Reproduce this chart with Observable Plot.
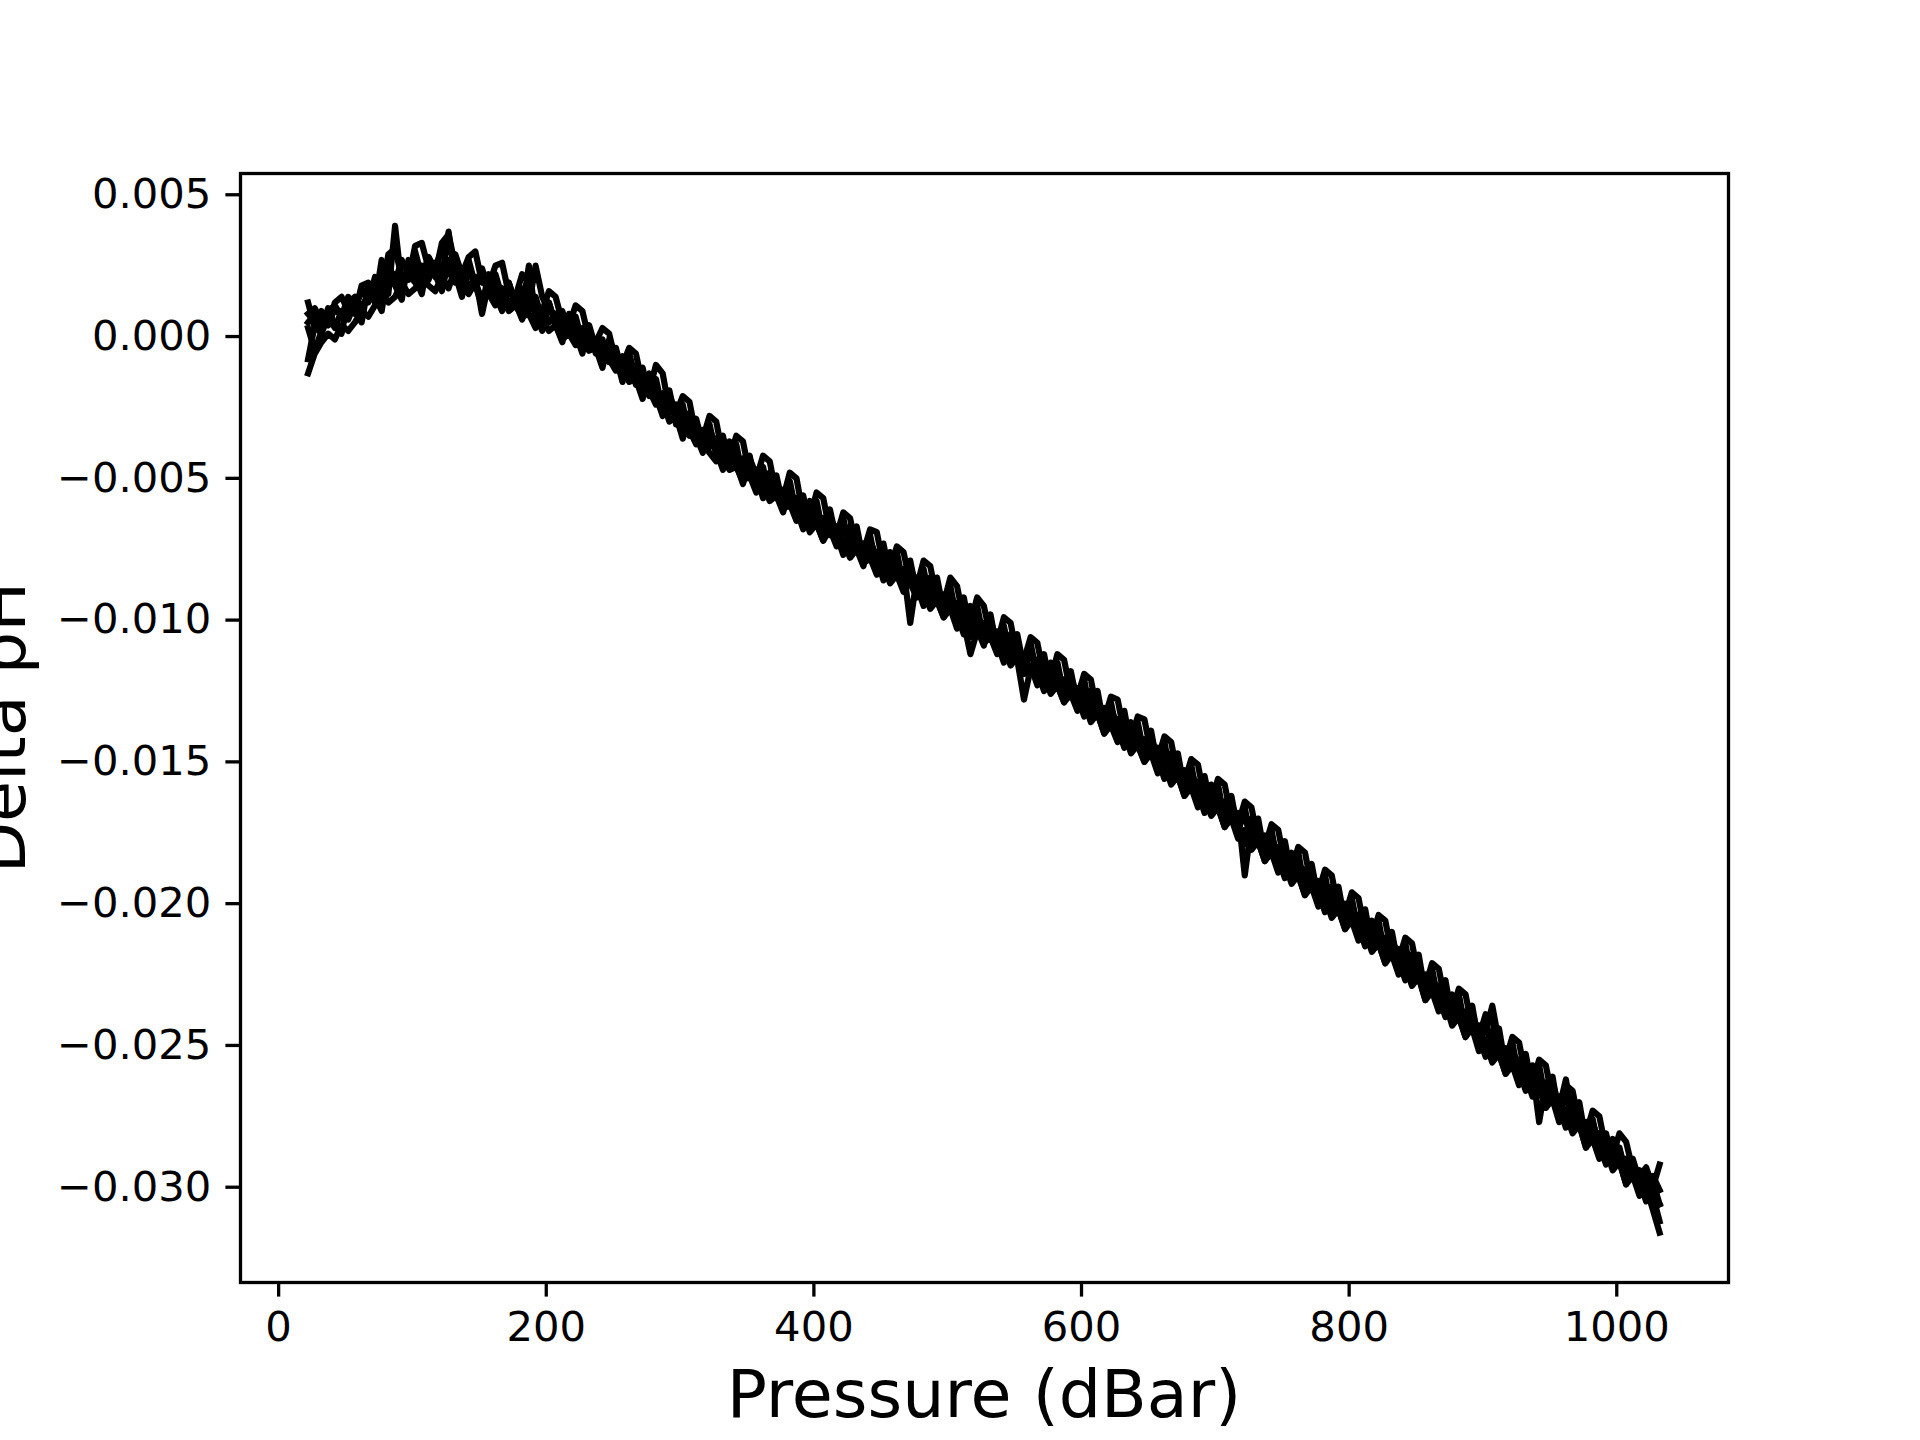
<!DOCTYPE html>
<html>
<head>
<meta charset="utf-8">
<script src="https://cdn.jsdelivr.net/npm/d3@7"></script>
<script src="https://cdn.jsdelivr.net/npm/@observablehq/plot@0.6"></script>
<style>
  html, body { margin: 0; padding: 0; background: white; }
  #chart { width: 1920px; height: 1440px; }
</style>
</head>
<body>
<div id="chart"></div>
<script>
const xLabel = "Pressure (dBar)";
const yLabel = "Delta pH";
const xTicks = [0, 200, 400, 600, 800, 1000];
const yTicks = [-0.030, -0.025, -0.020, -0.015, -0.010, -0.005, 0.000, 0.005];

const pressure = [22,27,32,37,42,47,52,57,62,67,72,77,82,87,92,97,102,107,112,117,122,127,132,137,142,147,152,157,162,167,172,177,182,187,192,197,202,207,212,217,222,227,232,237,242,247,252,257,262,267,272,277,282,287,292,297,302,307,312,317,322,327,332,337,342,347,352,357,362,367,372,377,382,387,392,397,402,407,412,417,422,427,432,437,442,447,452,457,462,467,472,477,482,487,492,497,502,507,512,517,522,527,532,537,542,547,552,557,562,567,572,577,582,587,592,597,602,607,612,617,622,627,632,637,642,647,652,657,662,667,672,677,682,687,692,697,702,707,712,717,722,727,732,737,742,747,752,757,762,767,772,777,782,787,792,797,802,807,812,817,822,827,832,837,842,847,852,857,862,867,872,877,882,887,892,897,902,907,912,917,922,927,932,937,942,947,952,957,962,967,972,977,982,987,992,997,1002,1007,1012,1017,1022,1027,1032];

const profileA = [0.0012,0.0003,0.0009,0.0004,0.0010,0.0007,0.0014,0.0009,0.0017,0.0012,
0.0021,0.0016,0.0026,0.0019,0.0027,0.0022,0.0030,0.0021,0.0028,0.0024,
0.0031,0.0023,0.0029,0.0022,0.0027,0.0018,0.0024,0.0016,0.0022,0.0014,
0.0019,0.0011,0.0017,0.0009,0.0014,0.0006,0.0012,0.0004,0.0009,0.0001,
0.0007,-0.0002,0.0003,-0.0006,-0.0001,-0.0009,-0.0004,-0.0013,-0.0007,-0.0017,
-0.0011,-0.0021,-0.0015,-0.0026,-0.0019,-0.0031,-0.0024,-0.0035,-0.0029,-0.0038,
-0.0031,-0.0042,-0.0035,-0.0045,-0.0038,-0.0050,-0.0042,-0.0054,-0.0046,-0.0057,
-0.0049,-0.0060,-0.0051,-0.0063,-0.0056,-0.0067,-0.0058,-0.0070,-0.0061,-0.0072,
-0.0064,-0.0076,-0.0067,-0.0079,-0.0070,-0.0082,-0.0073,-0.0085,-0.0076,-0.0088,
-0.0079,-0.0091,-0.0082,-0.0094,-0.0085,-0.0097,-0.0088,-0.0101,-0.0092,-0.0104,
-0.0095,-0.0107,-0.0098,-0.0111,-0.0102,-0.0114,-0.0105,-0.0117,-0.0108,-0.0121,
-0.0112,-0.0124,-0.0115,-0.0127,-0.0118,-0.0130,-0.0121,-0.0134,-0.0125,-0.0138,
-0.0129,-0.0141,-0.0132,-0.0145,-0.0136,-0.0148,-0.0139,-0.0152,-0.0143,-0.0156,
-0.0147,-0.0160,-0.0151,-0.0164,-0.0155,-0.0167,-0.0158,-0.0171,-0.0162,-0.0175,
-0.0166,-0.0179,-0.0170,-0.0183,-0.0174,-0.0187,-0.0178,-0.0191,-0.0182,-0.0195,
-0.0186,-0.0199,-0.0190,-0.0203,-0.0194,-0.0207,-0.0198,-0.0211,-0.0202,-0.0215,
-0.0206,-0.0219,-0.0210,-0.0223,-0.0214,-0.0227,-0.0218,-0.0232,-0.0223,-0.0236,
-0.0227,-0.0241,-0.0232,-0.0245,-0.0236,-0.0250,-0.0240,-0.0254,-0.0244,-0.0258,
-0.0249,-0.0262,-0.0253,-0.0266,-0.0257,-0.0270,-0.0261,-0.0275,-0.0266,-0.0279,
-0.0270,-0.0284,-0.0276,-0.0288,-0.0281,-0.0291,-0.0286,-0.0296,-0.0291,-0.0300,-0.0294,-0.0303,-0.0312];

const profileB = [-0.0013,-0.0006,-0.0002,0.0001,-0.0001,0.0004,0.0002,0.0005,0.0009,0.0007,
0.0011,0.0016,0.0012,0.0014,0.0019,0.0015,0.0017,0.0021,0.0018,0.0016,
0.0021,0.0017,0.0024,0.0018,0.0015,0.0019,0.0013,0.0015,0.0011,0.0014,
0.0009,0.0011,0.0007,0.0008,0.0003,0.0006,0.0002,0.0004,-0.0001,0.0001,
-0.0003,-0.0002,-0.0005,-0.0004,-0.0009,-0.0008,-0.0012,-0.0011,-0.0016,-0.0015,
-0.0021,-0.0019,-0.0024,-0.0023,-0.0030,-0.0028,-0.0035,-0.0033,-0.0038,-0.0037,
-0.0041,-0.0044,-0.0043,-0.0047,-0.0046,-0.0051,-0.0049,-0.0055,-0.0053,-0.0058,
-0.0056,-0.0061,-0.0059,-0.0065,-0.0062,-0.0069,-0.0066,-0.0072,-0.0068,-0.0074,
-0.0072,-0.0078,-0.0075,-0.0080,-0.0078,-0.0084,-0.0081,-0.0087,-0.0084,-0.0089,
-0.0087,-0.0092,-0.0090,-0.0096,-0.0093,-0.0099,-0.0096,-0.0103,-0.0099,-0.0106,
-0.0102,-0.0108,-0.0106,-0.0112,-0.0110,-0.0116,-0.0113,-0.0119,-0.0116,-0.0123,
-0.0120,-0.0126,-0.0123,-0.0129,-0.0126,-0.0132,-0.0129,-0.0136,-0.0133,-0.0140,
-0.0137,-0.0143,-0.0140,-0.0147,-0.0144,-0.0150,-0.0147,-0.0154,-0.0151,-0.0158,
-0.0155,-0.0162,-0.0159,-0.0166,-0.0163,-0.0169,-0.0166,-0.0173,-0.0170,-0.0177,
-0.0174,-0.0181,-0.0178,-0.0185,-0.0182,-0.0189,-0.0186,-0.0193,-0.0190,-0.0197,
-0.0194,-0.0201,-0.0198,-0.0205,-0.0202,-0.0209,-0.0206,-0.0213,-0.0210,-0.0217,
-0.0214,-0.0221,-0.0218,-0.0225,-0.0222,-0.0229,-0.0226,-0.0234,-0.0231,-0.0238,
-0.0235,-0.0243,-0.0240,-0.0247,-0.0244,-0.0252,-0.0249,-0.0256,-0.0253,-0.0260,
-0.0257,-0.0264,-0.0261,-0.0268,-0.0265,-0.0272,-0.0269,-0.0277,-0.0274,-0.0281,
-0.0278,-0.0286,-0.0283,-0.0290,-0.0287,-0.0294,-0.0291,-0.0299,-0.0296,-0.0303,-0.0300,-0.0308,-0.0316];

const profileC = [0.0008,0.0010,0.0005,0.0004,0.0012,0.0014,0.0009,0.0008,0.0018,0.0019,
0.0014,0.0015,0.0029,0.0031,0.0021,0.0020,0.0032,0.0033,0.0024,0.0022,
0.0033,0.0036,0.0025,0.0022,0.0028,0.0030,0.0019,0.0018,0.0025,0.0026,
0.0015,0.0014,0.0022,0.0019,0.0010,0.0009,0.0016,0.0014,0.0005,0.0004,
0.0011,0.0009,-0.0001,-0.0002,0.0003,0.0001,-0.0009,-0.0010,-0.0004,-0.0006,
-0.0017,-0.0019,-0.0010,-0.0013,-0.0026,-0.0027,-0.0021,-0.0023,-0.0035,-0.0036,
-0.0028,-0.0030,-0.0042,-0.0043,-0.0035,-0.0037,-0.0049,-0.0050,-0.0042,-0.0044,
-0.0056,-0.0057,-0.0048,-0.0050,-0.0063,-0.0064,-0.0055,-0.0057,-0.0069,-0.0070,
-0.0062,-0.0064,-0.0075,-0.0076,-0.0068,-0.0069,-0.0081,-0.0082,-0.0074,-0.0076,
-0.0087,-0.0088,-0.0079,-0.0081,-0.0093,-0.0094,-0.0085,-0.0088,-0.0100,-0.0101,
-0.0092,-0.0095,-0.0106,-0.0108,-0.0099,-0.0101,-0.0113,-0.0114,-0.0106,-0.0108,
-0.0120,-0.0121,-0.0112,-0.0114,-0.0126,-0.0127,-0.0119,-0.0121,-0.0133,-0.0135,
-0.0127,-0.0128,-0.0140,-0.0142,-0.0134,-0.0135,-0.0147,-0.0149,-0.0141,-0.0143,
-0.0155,-0.0157,-0.0149,-0.0151,-0.0163,-0.0164,-0.0156,-0.0158,-0.0170,-0.0172,
-0.0164,-0.0166,-0.0178,-0.0180,-0.0172,-0.0174,-0.0186,-0.0188,-0.0180,-0.0182,
-0.0194,-0.0196,-0.0188,-0.0190,-0.0202,-0.0204,-0.0196,-0.0198,-0.0210,-0.0212,
-0.0204,-0.0206,-0.0218,-0.0220,-0.0212,-0.0214,-0.0226,-0.0229,-0.0221,-0.0223,
-0.0235,-0.0238,-0.0230,-0.0232,-0.0244,-0.0247,-0.0239,-0.0241,-0.0253,-0.0255,
-0.0247,-0.0249,-0.0261,-0.0263,-0.0255,-0.0257,-0.0269,-0.0272,-0.0264,-0.0266,
-0.0278,-0.0281,-0.0273,-0.0275,-0.0287,-0.0289,-0.0281,-0.0284,-0.0294,-0.0296,-0.0293,-0.0300,-0.0292];

const profileD = [-0.0008,0.0004,0.0001,0.0007,0.0003,0.0009,0.0006,0.0012,0.0008,0.0016,
0.0012,0.0027,0.0015,0.0039,0.0018,0.0022,0.0019,0.0025,0.0020,0.0026,
0.0021,0.0037,0.0019,0.0024,0.0017,0.0021,0.0008,0.0019,0.0014,0.0017,
0.0011,0.0015,0.0009,0.0025,0.0007,0.0010,0.0005,0.0007,0.0001,0.0005,
0.0000,0.0002,-0.0003,-0.0001,-0.0007,-0.0004,-0.0010,-0.0007,-0.0014,-0.0011,
-0.0018,-0.0015,-0.0022,-0.0020,-0.0027,-0.0024,-0.0032,-0.0029,-0.0036,-0.0033,
-0.0039,-0.0036,-0.0043,-0.0040,-0.0046,-0.0043,-0.0050,-0.0047,-0.0054,-0.0051,
-0.0057,-0.0054,-0.0060,-0.0057,-0.0064,-0.0061,-0.0067,-0.0064,-0.0070,-0.0067,
-0.0073,-0.0070,-0.0076,-0.0073,-0.0079,-0.0076,-0.0082,-0.0079,-0.0085,-0.0082,
-0.0101,-0.0085,-0.0091,-0.0088,-0.0094,-0.0091,-0.0097,-0.0094,-0.0101,-0.0112,
-0.0104,-0.0101,-0.0107,-0.0104,-0.0111,-0.0108,-0.0114,-0.0128,-0.0117,-0.0114,
-0.0121,-0.0118,-0.0124,-0.0121,-0.0127,-0.0124,-0.0130,-0.0127,-0.0134,-0.0131,
-0.0138,-0.0135,-0.0141,-0.0138,-0.0145,-0.0142,-0.0148,-0.0145,-0.0152,-0.0149,
-0.0156,-0.0153,-0.0160,-0.0157,-0.0164,-0.0161,-0.0167,-0.0164,-0.0171,-0.0168,
-0.0190,-0.0172,-0.0179,-0.0176,-0.0183,-0.0180,-0.0187,-0.0184,-0.0191,-0.0188,
-0.0195,-0.0192,-0.0199,-0.0196,-0.0203,-0.0200,-0.0207,-0.0204,-0.0211,-0.0208,
-0.0215,-0.0212,-0.0219,-0.0216,-0.0223,-0.0220,-0.0227,-0.0225,-0.0232,-0.0229,
-0.0236,-0.0234,-0.0241,-0.0238,-0.0245,-0.0243,-0.0250,-0.0247,-0.0254,-0.0251,
-0.0258,-0.0255,-0.0262,-0.0259,-0.0277,-0.0263,-0.0270,-0.0268,-0.0275,-0.0272,
-0.0279,-0.0277,-0.0284,-0.0281,-0.0288,-0.0285,-0.0292,-0.0290,-0.0297,-0.0294,-0.0301,-0.0298,-0.0306];

const profileE = [0.0003,-0.0005,0.0002,0.0010,0.0004,0.0001,0.0013,0.0009,0.0005,0.0018,
0.0014,0.0009,0.0024,0.0018,0.0013,0.0027,0.0021,0.0015,0.0028,0.0022,
0.0016,0.0027,0.0022,0.0014,0.0025,0.0018,0.0011,0.0022,0.0015,0.0009,
0.0019,0.0012,0.0006,0.0015,0.0008,0.0002,0.0012,0.0004,-0.0002,0.0008,
0.0001,-0.0006,0.0004,-0.0004,-0.0011,-0.0001,-0.0007,-0.0016,-0.0006,-0.0015,
-0.0022,-0.0013,-0.0021,-0.0028,-0.0020,-0.0028,-0.0036,-0.0027,-0.0035,-0.0041,
-0.0032,-0.0040,-0.0047,-0.0037,-0.0045,-0.0052,-0.0043,-0.0049,-0.0057,-0.0048,
-0.0056,-0.0062,-0.0053,-0.0061,-0.0068,-0.0058,-0.0066,-0.0072,-0.0063,-0.0070,
-0.0077,-0.0067,-0.0075,-0.0081,-0.0072,-0.0078,-0.0086,-0.0076,-0.0084,-0.0090,
-0.0081,-0.0088,-0.0095,-0.0085,-0.0093,-0.0099,-0.0090,-0.0098,-0.0105,-0.0095,
-0.0103,-0.0109,-0.0100,-0.0108,-0.0115,-0.0105,-0.0113,-0.0119,-0.0110,-0.0118,
-0.0125,-0.0115,-0.0123,-0.0129,-0.0120,-0.0127,-0.0134,-0.0125,-0.0133,-0.0140,
-0.0131,-0.0138,-0.0145,-0.0136,-0.0144,-0.0150,-0.0141,-0.0149,-0.0156,-0.0147,
-0.0155,-0.0162,-0.0153,-0.0161,-0.0168,-0.0158,-0.0166,-0.0173,-0.0164,-0.0172,
-0.0179,-0.0170,-0.0178,-0.0185,-0.0176,-0.0184,-0.0191,-0.0182,-0.0190,-0.0197,
-0.0188,-0.0196,-0.0203,-0.0194,-0.0202,-0.0209,-0.0200,-0.0208,-0.0215,-0.0206,
-0.0214,-0.0221,-0.0212,-0.0220,-0.0227,-0.0218,-0.0226,-0.0234,-0.0225,-0.0233,
-0.0240,-0.0232,-0.0240,-0.0247,-0.0238,-0.0247,-0.0254,-0.0245,-0.0253,-0.0260,
-0.0251,-0.0259,-0.0266,-0.0257,-0.0265,-0.0272,-0.0263,-0.0272,-0.0279,-0.0270,
-0.0278,-0.0286,-0.0277,-0.0285,-0.0292,-0.0283,-0.0291,-0.0299,-0.0290,-0.0298,-0.0305,-0.0296,-0.0301];

const profileF = [0.0005,0.0008,0.0004,0.0009,0.0011,0.0007,0.0012,0.0014,0.0010,0.0015,
0.0017,0.0014,0.0020,0.0022,0.0018,0.0023,0.0025,0.0020,0.0026,0.0021,
0.0025,0.0022,0.0028,0.0020,0.0023,0.0018,0.0021,0.0016,0.0019,0.0013,
0.0017,0.0012,0.0015,0.0011,0.0025,0.0014,0.0009,0.0008,0.0003,0.0006,
0.0002,0.0003,-0.0001,-0.0002,-0.0004,-0.0007,-0.0006,-0.0011,-0.0010,-0.0015,
-0.0014,-0.0019,-0.0018,-0.0023,-0.0022,-0.0028,-0.0027,-0.0033,-0.0031,-0.0036,
-0.0034,-0.0040,-0.0038,-0.0043,-0.0041,-0.0047,-0.0045,-0.0051,-0.0048,-0.0054,
-0.0052,-0.0057,-0.0055,-0.0061,-0.0059,-0.0064,-0.0062,-0.0067,-0.0065,-0.0070,
-0.0068,-0.0073,-0.0071,-0.0076,-0.0074,-0.0079,-0.0077,-0.0082,-0.0080,-0.0085,
-0.0083,-0.0088,-0.0086,-0.0091,-0.0089,-0.0094,-0.0092,-0.0098,-0.0096,-0.0101,
-0.0099,-0.0104,-0.0102,-0.0108,-0.0106,-0.0111,-0.0109,-0.0114,-0.0112,-0.0118,
-0.0116,-0.0121,-0.0119,-0.0124,-0.0122,-0.0127,-0.0125,-0.0131,-0.0129,-0.0135,
-0.0133,-0.0138,-0.0136,-0.0142,-0.0140,-0.0145,-0.0143,-0.0149,-0.0147,-0.0153,
-0.0151,-0.0157,-0.0155,-0.0161,-0.0159,-0.0164,-0.0162,-0.0168,-0.0166,-0.0172,
-0.0170,-0.0176,-0.0174,-0.0180,-0.0178,-0.0184,-0.0182,-0.0188,-0.0186,-0.0192,
-0.0190,-0.0196,-0.0194,-0.0200,-0.0198,-0.0204,-0.0202,-0.0208,-0.0206,-0.0212,
-0.0210,-0.0216,-0.0214,-0.0220,-0.0218,-0.0224,-0.0222,-0.0229,-0.0227,-0.0233,
-0.0231,-0.0238,-0.0236,-0.0242,-0.0240,-0.0247,-0.0245,-0.0236,-0.0249,-0.0255,
-0.0253,-0.0259,-0.0257,-0.0263,-0.0261,-0.0267,-0.0265,-0.0272,-0.0262,-0.0276,
-0.0274,-0.0281,-0.0279,-0.0285,-0.0283,-0.0289,-0.0287,-0.0294,-0.0292,-0.0298,-0.0296,-0.0302,-0.0306];

const profiles = [profileA, profileB, profileC, profileD, profileE, profileF];
const rows = [];
profiles.forEach((vals, k) => {
  vals.forEach((v, i) => { if (i < pressure.length) rows.push({profile: k, p: pressure[i], v}); });
});

const W = 1920, H = 1440;
const mL = 240, mR = 192, mT = 173, mB = 158;
const lw = 3.3;

const svg = Plot.plot({
  width: W, height: H,
  marginLeft: mL, marginRight: mR, marginTop: mT, marginBottom: mB,
  style: {fontFamily: "'DejaVu Sans', sans-serif", fontSize: "41.7px", background: "white", color: "black", overflow: "visible"},
  x: {domain: [-28.5, 1083.5]},
  y: {domain: [-0.03336, 0.00575]},
  marks: [
    Plot.line(rows, {x: "p", y: "v", z: "profile", stroke: "black", strokeWidth: 6.2, strokeLinejoin: "round", strokeLinecap: "square", clip: true}),
    Plot.frame({stroke: "black", strokeWidth: lw}),
    Plot.axisX({ticks: xTicks, tickFormat: d => String(d), tickSize: 14.6, tickPadding: 14.6, strokeWidth: lw, label: null, fontSize: 41.7}),
    Plot.axisY({ticks: yTicks, tickFormat: d3.format(".3f"), tickSize: 14.6, tickPadding: 14.6, strokeWidth: lw, label: null, fontSize: 41.7})
  ]
});

const s = d3.select(svg);
s.append("text")
  .attr("x", (mL + (W - mR)) / 2).attr("y", 1417)
  .attr("text-anchor", "middle").attr("font-size", 66.7).attr("fill", "black")
  .attr("font-family", "'DejaVu Sans', sans-serif")
  .text(xLabel);
s.append("text")
  .attr("transform", `translate(25,${(mT + (H - mB)) / 2}) rotate(-90)`)
  .attr("text-anchor", "middle").attr("font-size", 66.7).attr("fill", "black")
  .attr("font-family", "'DejaVu Sans', sans-serif")
  .text(yLabel);

document.getElementById("chart").appendChild(svg);
</script>
</body>
</html>
